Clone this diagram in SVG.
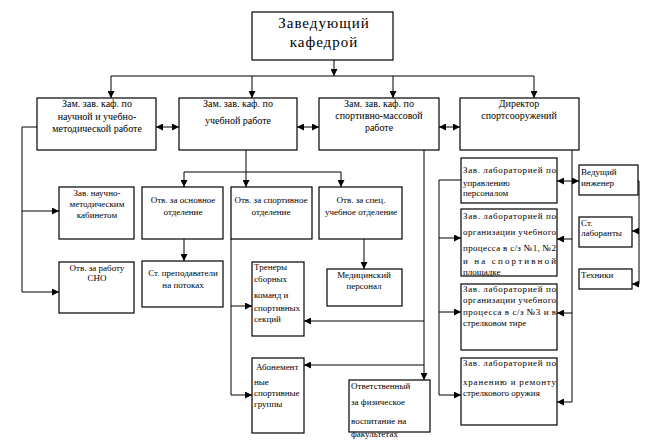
<svg xmlns="http://www.w3.org/2000/svg" width="661" height="441" viewBox="0 0 661 441">
<defs>
<marker id="ah" markerWidth="7" markerHeight="7" refX="7" refY="3.5" orient="auto-start-reverse" markerUnits="userSpaceOnUse">
<path d="M0,0 L7,3.5 L0,7 z" fill="#000"/>
</marker>
<style>
rect{fill:#fff;stroke:#000;stroke-width:1.2}
text{font-size:9px;fill:#000}
.c{text-anchor:middle}
.m{font-size:10px}
.t{font-size:15px;letter-spacing:1px}
#connectors path{fill:none;stroke:#000;stroke-width:1}
.a{marker-end:url(#ah)}
.d{marker-start:url(#ah);marker-end:url(#ah)}
</style>
</defs>
<rect x="0" y="0" width="661" height="441" style="stroke:none;fill:#fff"/>
<g id="connectors">
<path class="a" d="M334,60 V76"/>
<path d="M111,76 H534"/>
<path class="a" d="M111,76 V98"/>
<path class="a" d="M252,76 V98"/>
<path class="a" d="M393,76 V98"/>
<path class="a" d="M534,76 V98"/>
<path class="d" d="M156,127 H179"/>
<path class="d" d="M297,127 H319"/>
<path class="d" d="M439,127 H460"/>
<path d="M37,127 H22 V292"/>
<path class="a" d="M22,211 H59"/>
<path class="a" d="M22,292 H59"/>
<path d="M246,150 V172 M184,172 H341"/>
<path class="a" d="M184,172 V187"/>
<path class="a" d="M246,172 V187"/>
<path class="a" d="M341,172 V187"/>
<path class="a" d="M184,239 V261"/>
<path d="M231,239 V395"/>
<path class="a" d="M231,306 H252"/>
<path class="a" d="M231,395 H252"/>
<path class="a" d="M364,239 V269"/>
<path class="a" d="M424,150 V380"/>
<path class="a" d="M424,321 H304"/>
<path class="a" d="M424,365 H304"/>
<path d="M461,180 H439 V395"/>
<path class="a" d="M439,238 H461"/>
<path class="a" d="M439,312 H461"/>
<path class="a" d="M439,395 H461"/>
<path d="M572,150 V402"/>
<path class="a" d="M572,239 H557"/>
<path class="a" d="M572,313 H557"/>
<path class="a" d="M572,402 H557"/>
<path class="d" d="M557,181 H579"/>
<path d="M638,181 H639 V284"/>
<path class="a" d="M639,231 H632"/>
<path class="a" d="M639,284 H632"/>
</g>
<g font-family="'Liberation Serif', 'DejaVu Serif', serif">
<g id="n-head"><rect x="252" y="12" width="141" height="48"/>
<text class="c t" x="324" y="28">Заведующий</text><text class="c t" x="324" y="47">кафедрой</text></g>
<g id="n-z1"><rect x="37" y="98" width="119" height="52"/>
<text class="c m" x="97" y="107">Зам. зав. каф. по</text><text class="c m" x="97" y="120">научной и учебно-</text><text class="c m" x="97" y="132">методической работе</text></g>
<g id="n-z2"><rect x="179" y="98" width="118" height="52"/>
<text class="c m" x="238" y="107">Зам. зав. каф.  по</text><text class="c m" x="238" y="124">учебной работе</text></g>
<g id="n-z3"><rect x="319" y="98" width="120" height="52"/>
<text class="c m" x="379" y="107">Зам. зав. каф. по</text><text class="c m" x="379" y="119">спортивно-массовой</text><text class="c m" x="379" y="131">работе</text></g>
<g id="n-dir"><rect x="460" y="98" width="119" height="52"/>
<text class="c m" x="519" y="107">Директор</text><text class="c m" x="519" y="119">спортсооружений</text></g>
<g id="n-nmk"><rect x="59" y="187" width="75" height="52"/>
<text class="c" x="97" y="196">Зав. научно-</text><text class="c" x="97" y="207">методическим</text><text class="c" x="97" y="218">кабинетом</text></g>
<g id="n-sno"><rect x="59" y="262" width="75" height="51"/>
<text class="c" x="97" y="271">Отв. за работу</text><text class="c" x="97" y="281">СНО</text></g>
<g id="n-osn"><rect x="142" y="187" width="81" height="52"/>
<text class="c" x="183" y="203">Отв. за основное</text><text class="c" x="183" y="215">отделение</text></g>
<g id="n-sprt"><rect x="231" y="187" width="81" height="52"/>
<text class="c" x="271" y="203">Отв. за спортивное</text><text class="c" x="271" y="215">отделение</text></g>
<g id="n-spec"><rect x="319" y="187" width="83" height="52"/>
<text class="c" x="361" y="203">Отв. за спец.</text><text class="c" x="361" y="215">учебное отделение</text></g>
<g id="n-prep"><rect x="142" y="261" width="81" height="46"/>
<text class="c" x="183" y="276">Ст. преподаватели</text><text class="c" x="183" y="288">на потоках</text></g>
<g id="n-med"><rect x="327" y="269" width="75" height="37"/>
<text class="c" x="364" y="278">Медицинский</text><text class="c" x="364" y="289">персонал</text></g>
<g id="n-tren"><rect x="252" y="262" width="52" height="74"/>
<text x="254" y="270">Тренеры</text><text x="254" y="282">сборных</text><text x="254" y="298">команд   и</text><text x="254" y="311">спортивных</text><text x="254" y="322">секций</text></g>
<g id="n-abon"><rect x="252" y="358" width="52" height="75"/>
<text x="256" y="370">Абонемент</text><text x="254" y="385">ные</text><text x="254" y="396">спортивные</text><text x="254" y="407">группы</text></g>
<g id="n-otv"><rect x="349" y="380" width="81" height="52"/>
<text x="351" y="389">Ответственный</text><text x="351" y="405">за физическое</text><text x="351" y="424">воспитание на</text><text x="351" y="437">факультетах</text></g>
<g id="n-l1"><rect x="461" y="158" width="96" height="45"/>
<text x="463" y="173" textLength="93" lengthAdjust="spacing">Зав. лабораторией по</text><text x="463" y="186">управлению</text><text x="463" y="196">персоналом</text></g>
<g id="n-l2"><rect x="461" y="209" width="96" height="67"/>
<text x="463" y="219" textLength="93" lengthAdjust="spacing">Зав. лабораторией по</text><text x="463" y="235" textLength="93" lengthAdjust="spacing">организации учебного</text><text x="463" y="251" textLength="93" lengthAdjust="spacing">процесса в с/з №1, №2</text><text x="463" y="264" textLength="93" lengthAdjust="spacing">и    на    спортивной</text><text x="463" y="275">площадке</text></g>
<g id="n-l3"><rect x="461" y="284" width="96" height="66"/>
<text x="463" y="292" textLength="93" lengthAdjust="spacing">Зав. лабораторией по</text><text x="463" y="303" textLength="93" lengthAdjust="spacing">организации учебного</text><text x="463" y="315" textLength="93" lengthAdjust="spacing">процесса в с/з №3 и в</text><text x="463" y="326">стрелковом тире</text></g>
<g id="n-l4"><rect x="461" y="358" width="96" height="67"/>
<text x="463" y="366" textLength="93" lengthAdjust="spacing">Зав. лабораторией по</text><text x="463" y="385" textLength="93" lengthAdjust="spacing">хранению и ремонту</text><text x="463" y="396">стрелкового оружия</text></g>
<g id="n-ving"><rect x="579" y="165" width="59" height="30"/>
<text x="581" y="175">Ведущий</text><text x="581" y="186">инженер</text></g>
<g id="n-lab"><rect x="579" y="217" width="53" height="30"/>
<text x="581" y="226">Ст.</text><text x="581" y="236">лаборанты</text></g>
<g id="n-teh"><rect x="579" y="269" width="53" height="20"/>
<text x="581" y="278">Техники</text></g>
</g>
</svg>
